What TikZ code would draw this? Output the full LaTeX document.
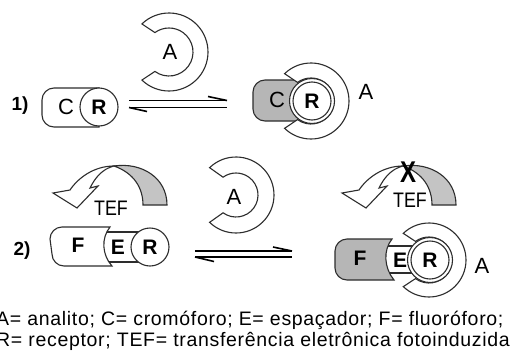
\documentclass[tikz,border=0pt]{standalone}
\usepackage{fontspec}
\setmainfont{Liberation Sans}
\newfontfamily\capfont[LetterSpace=3.5]{Liberation Sans}
\definecolor{blockgray}{RGB}{182,182,182}
\definecolor{tefgray}{RGB}{196,196,196}
\definecolor{edge}{RGB}{45,45,45}
\newcommand\Cring[4]{%
  \draw[outl, fill=white, shift={(#1,#2)}]
    (134:#3) arc[start angle=134, end angle=-134, radius=#3]
    -- (-126:#4) arc[start angle=-126, end angle=126, radius=#4] -- cycle;}
\newcommand\TEFarrow[1]{%
  \begin{scope}[xshift=#1]
    \draw[outl, fill=tefgray] (114,-166) .. controls (142,-162) and (167,-178) .. (167,-205)
      -- (143,-205) .. controls (143,-188) and (134,-173) .. (114,-166) -- cycle;
    \draw[outl, fill=white] (114,-166) .. controls (94,-166) and (78,-178) .. (70,-190)
      -- (53,-193) -- (77,-208) -- (98,-186) -- (90,-188)
      .. controls (95,-178) and (102,-169) .. (114,-166) -- cycle;
  \end{scope}}
\begin{document}
\begin{tikzpicture}[x=1pt,y=1pt,
  outl/.style={draw=edge, line width=1.1pt},
  lett/.style={inner sep=0pt, font=\fontsize{22}{22}\selectfont},
  bl/.style={inner sep=0pt, font=\bfseries\fontsize{21}{21}\selectfont},
  rcirc/.style={circle, draw=edge, line width=1.1pt, fill=white, minimum size=38pt, inner sep=0pt, font=\bfseries\fontsize{21}{21}\selectfont},
  ringc/.style={circle, draw=edge, line width=1.1pt, fill=white, minimum size=45pt, inner sep=0pt},
  eq/.style={draw=black, line width=1.5pt},
  barb/.style={draw=black, line width=1.6pt},
  num/.style={inner sep=0pt, font=\bfseries\fontsize{19}{19}\selectfont},
  tef/.style={inner sep=0pt, font=\fontsize{21}{21}\selectfont, xscale=0.85},
  captext/.style={inner sep=0pt, anchor=base west, font=\capfont\fontsize{19.5}{19.5}\selectfont}]
\useasboundingbox (0,0) rectangle (513,-356);
\fill[white] (0,0) rectangle (513,-356);

% ---------- part 1 ----------
\node[num] (n1) at (20,-106) {1)};
\draw[outl, fill=white] (99,-88) -- (54,-88) arc[start angle=90, end angle=180, radius=12]
  -- (42,-115) arc[start angle=180, end angle=270, radius=12] -- (99,-127) -- cycle;
\node[rcirc] (r1) at (99,-107) {R};
\node[lett] (c1) at (66,-107) {C};

\Cring{169}{-52}{39}{24}
\node[lett] (a1) at (170,-52) {A};

\coordinate (e1a) at (129,-100.5);
\coordinate (e1b) at (227,-100.5);
\coordinate (e1c) at (129,-107.5);
\coordinate (e1d) at (227,-107.5);
\coordinate (b1a) at (208,-96.5);
\coordinate (b1b) at (147,-111.5);
\draw[eq] (e1a) -- (e1b);
\draw[eq] (e1c) -- (e1d);
\draw[barb] (b1a) -- (e1b);
\draw[barb] (e1c) -- (b1b);

\draw[outl, fill=blockgray] (311,-80) -- (265,-80) arc[start angle=90, end angle=180, radius=12]
  -- (253,-109) arc[start angle=180, end angle=270, radius=12] -- (311,-121) -- cycle;
\Cring{311}{-101}{38}{23}
\node[ringc] (g1) at (312,-101) {};
\node[rcirc] (r2) at (312,-101) {R};
\node[lett] (c2) at (277,-100) {C};
\node[lett] (a2) at (366,-92) {A};

% ---------- part 2 ----------
\node[num] (n2) at (22,-251) {2)};
\TEFarrow{0}
\node[tef] (t1) at (111,-208) {TEF};

\draw[outl, fill=white] (100,-232) rectangle (150,-262);
\draw[outl, fill=white] (110,-227) -- (62,-227) arc[start angle=90, end angle=180, radius=12]
  -- (52,-254) arc[start angle=180, end angle=270, radius=12] -- (112,-266)
  .. controls (102,-255) and (101,-238) .. (110,-227) -- cycle;
\node[rcirc] (r3) at (150,-247) {R};
\node[bl] (f1) at (78,-245) {F};
\node[bl] (e1) at (118,-247) {E};

\Cring{236}{-195}{38}{22}
\node[lett] (a3) at (234,-197) {A};

\coordinate (e2a) at (195,-251);
\coordinate (e2b) at (292,-251);
\coordinate (e2c) at (195,-257);
\coordinate (e2d) at (292,-257);
\coordinate (b2a) at (273,-247);
\coordinate (b2b) at (214,-261.5);
\draw[eq] (e2a) -- (e2b);
\draw[eq] (e2c) -- (e2d);
\draw[barb] (b2a) -- (e2b);
\draw[barb] (e2c) -- (b2b);

\TEFarrow{289}
\node[tef] (t2) at (410,-200) {TEF};
\node[inner sep=0pt, font=\bfseries\fontsize{30}{30}\selectfont, xscale=0.8] (xm) at (408,-172) {X};

\draw[outl, fill=white] (384,-246) rectangle (430,-273);
\draw[outl, fill=blockgray] (392,-239) -- (347,-239) arc[start angle=90, end angle=180, radius=12]
  -- (335,-268) arc[start angle=180, end angle=270, radius=12] -- (394,-280)
  .. controls (384,-268) and (383,-250) .. (392,-239) -- cycle;
\Cring{429}{-260}{37}{23}
\node[ringc] (g2) at (430,-260) {};
\node[rcirc] (r4) at (430,-260) {R};
\node[bl] (f2) at (360,-258) {F};
\node[bl] (e2) at (400,-260) {E};
\node[lett] (a4) at (482,-266) {A};

% ---------- caption ----------
\node[captext] (cap1) at (-4,-325) {A= analito; C= cromóforo; E= espaçador; F= fluoróforo;};
\node[captext] (cap2) at (-4,-346) {R= receptor; TEF= transferência eletrônica fotoinduzida};
\end{tikzpicture}
\end{document}
